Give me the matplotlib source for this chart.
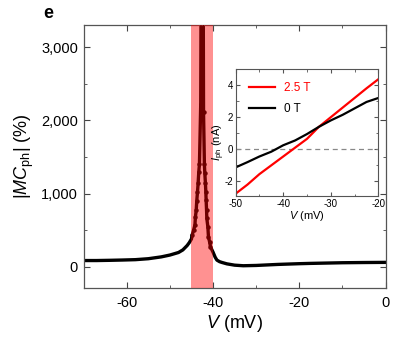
import numpy as np
import matplotlib
matplotlib.use("Agg")
import matplotlib.pyplot as plt
from matplotlib.ticker import MultipleLocator, StrMethodFormatter

plt.rcParams['font.family'] = ['Liberation Sans', 'DejaVu Sans']
plt.rcParams['mathtext.fontset'] = 'custom'
plt.rcParams['mathtext.rm'] = 'Liberation Sans'
plt.rcParams['mathtext.it'] = 'Liberation Sans:italic'
plt.rcParams['axes.unicode_minus'] = False

# MC_ph vs V : left branch (rising towards resonance)
v_left = [-70, -67, -64, -61, -58, -55, -52, -50, -48, -47, -46, -45.5, -45.0]
mc_left = [85, 85, 88, 92, 97, 110, 135, 160, 195, 230, 290, 330, 380]
# measured points near resonance (drawn with markers)
v_pk = [-44.85, -44.5, -44.2, -44.08, -43.9, -43.77, -43.6, -43.46, -43.3, -43.15, -42.85,
        -42.5,
        -42.2, -42.0, -41.9, -41.76, -41.67, -41.6, -41.5, -41.44, -41.2, -41.06, -40.8, -40.6]
mc_pk = [432, 500, 569, 682, 773, 900, 1023, 1138, 1296, 1401, 2229,
         9000,
         2115, 1401, 1274, 1138, 1023, 910, 773, 660, 546, 409, 341, 273]
# right branch (after resonance)
v_right = [-40.0, -39.5, -39.1, -38.5, -38.0, -36.8, -35, -33, -30, -25, -20, -17.5, -10, -5, 0]
mc_right = [200, 130, 91, 70, 60, 40, 22, 14, 18, 32, 42, 46, 55, 58, 60]

# resonance window
band_lo, band_hi = -45.2, -40.1

# inset: I_ph vs V
v_in = [-50, -47.5, -45, -42.5, -40, -37.5, -35, -32.5, -30, -27.5, -25, -22.5, -20]
i_25T = [-2.77, -2.20, -1.55, -1.00, -0.45, 0.10, 0.65, 1.40, 2.00, 2.60, 3.20, 3.80, 4.37]
i_0T = [-1.13, -0.80, -0.45, -0.15, 0.25, 0.55, 0.95, 1.40, 1.80, 2.15, 2.55, 2.95, 3.20]

fig = plt.figure(figsize=(4, 3.37), dpi=100)
ax = fig.add_axes([0.209, 0.1454, 0.755, 0.780])

v_all = v_left + v_pk + v_right
mc_all = mc_left + mc_pk + mc_right
ax.plot(v_all, mc_all, color='black', lw=2.4, zorder=2)
ax.plot(v_pk, mc_pk, color='black', lw=0.8, marker='o', ms=2.2, zorder=3)
ax.axvspan(band_lo, band_hi, color='red', alpha=0.43, lw=0, zorder=4)

ax.set_xlim(-70, 0)
ax.set_ylim(-290, 3300)
ax.xaxis.set_major_locator(MultipleLocator(20))
ax.xaxis.set_minor_locator(MultipleLocator(10))
ax.yaxis.set_major_locator(MultipleLocator(1000))
ax.yaxis.set_minor_locator(MultipleLocator(500))
ax.yaxis.set_major_formatter(StrMethodFormatter('{x:,.0f}'))
ax.tick_params(which='both', direction='in', top=True, right=True, color='#444444')
ax.tick_params(which='major', length=4, labelsize=10.5, pad=4)
ax.tick_params(which='minor', length=2.5)
ax.tick_params(axis='x', which='major', pad=6)
for s in ax.spines.values():
    s.set_color('#555555')
    s.set_linewidth(0.9)
ax.set_xlabel(r'$V$ (mV)', fontsize=13, labelpad=2)
ax.set_ylabel(r'$|MC_{\mathrm{ph}}|$ (%)', fontsize=13, labelpad=4)

fig.text(0.12, 0.96, 'e', fontsize=13, fontweight='bold', ha='center', va='center')

# inset
axi = fig.add_axes([0.589, 0.419, 0.357, 0.376])
axi.axhline(0, color='#888888', lw=0.9, ls=(0, (4, 3)))
axi.plot(v_in, i_25T, color='red', lw=1.6, label='2.5 T')
axi.plot(v_in, i_0T, color='black', lw=1.6, label='0 T')
axi.set_xlim(-50, -20)
axi.set_ylim(-2.9, 5)
axi.xaxis.set_major_locator(MultipleLocator(10))
axi.xaxis.set_minor_locator(MultipleLocator(5))
axi.yaxis.set_major_locator(MultipleLocator(2))
axi.yaxis.set_minor_locator(MultipleLocator(1))
axi.tick_params(which='both', direction='in', top=True, right=True, color='#555555')
axi.tick_params(which='major', length=3, labelsize=7, pad=2)
axi.tick_params(which='minor', length=1.8)
for s in axi.spines.values():
    s.set_color('#555555')
    s.set_linewidth(0.8)
axi.set_xlabel(r'$V$ (mV)', fontsize=8, labelpad=0)
axi.set_ylabel(r'$I_{\mathrm{ph}}$ (nA)', fontsize=8)
axi.yaxis.set_label_coords(-0.06, 0.42)
leg = axi.legend(loc='upper left', frameon=False, fontsize=8.5, handlelength=2.2,
                 labelspacing=0.75, borderaxespad=0.7)
for txt, line in zip(leg.get_texts(), leg.get_lines()):
    txt.set_color(line.get_color())

fig.savefig('out.png', dpi=100)
